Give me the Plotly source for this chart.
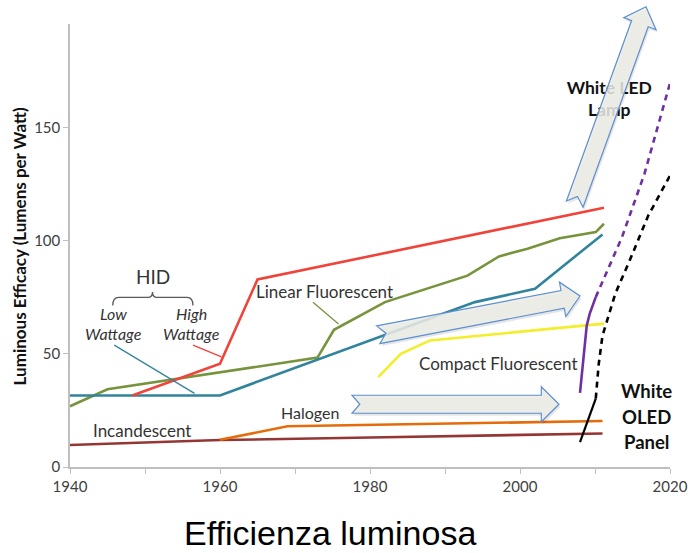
import math
import plotly.graph_objects as go

# ---- efficacy histories (year, lumens per watt) ----
incandescent_years = [1940, 1960, 1980, 2011]
incandescent_lmw = [9.7, 11.9, 13.0, 14.8]

halogen_years = [1960, 1969, 2011]
halogen_lmw = [12.0, 18.0, 20.3]

hid_low_years = [1940, 1960, 1994, 2002, 2011]
hid_low_lmw = [31.6, 31.6, 72.8, 78.7, 102.7]

hid_high_years = [1948.3, 1960, 1965, 2011.2]
hid_high_lmw = [31.6, 45.6, 82.8, 114.5]

linear_fl_years = [1940, 1945, 1973, 1975.2, 1982, 1993, 1997.2, 2001, 2005.3, 2010.1, 2011.2]
linear_fl_lmw = [26.8, 34.3, 48.3, 60.6, 72.8, 84.5, 93.0, 96.4, 101.0, 103.7, 107.4]

compact_fl_years = [1981.1, 1984.1, 1988, 2011.2]
compact_fl_lmw = [39.7, 50.0, 55.9, 63.3]

led_years = [2008.0, 2008.55, 2008.9, 2009.3, 2010.1]
led_lmw = [32.7, 53.0, 62.5, 67.7, 75.0]
led_proj_years = [2010.1, 2013.6, 2016.6, 2020.0]
led_proj_lmw = [75.0, 101.5, 129.5, 169.5]

oled_years = [2008.0, 2010.1]
oled_lmw = [11.0, 30.2]
oled_proj_years = [2010.1, 2010.5, 2011.0, 2011.6, 2012.7, 2014.6, 2017.1, 2020.0]
oled_proj_lmw = [30.2, 45.6, 58.0, 64.7, 76.5, 91.0, 111.0, 128.7]

x_ticks = [1940, 1960, 1980, 2000, 2020]
y_ticks = [0, 50, 100, 150]

# trend arrows: (tail year, tail value, tip year, tip value)
trend_arrows = [
    (2007.3, 116.1, 2016.8, 203.2),
    (1981.1, 58.4, 2008.0, 75.5),
    (1977.6, 27.7, 2005.2, 27.7),
]

# ---- page geometry ----
W, H = 700, 553
ML, MR, MT, MB = 70, 19, 24, 86
PW, PH = W - ML - MR, H - MT - MB
X0, X1 = 1940, 2020
Y0, Y1 = 0, 195.6

FONT = "Lato"
TXT = "#333333"


def to_px(x, y):
    return (ML + (x - X0) / (X1 - X0) * PW,
            MT + (Y1 - y) / (Y1 - Y0) * PH)


def to_paper(px, py):
    return ((px - ML) / PW, (H - MB - py) / PH)


def arrow_path(x0, y0, x1, y1, dx=0.0, dy=0.0,
               half_w=9.0, half_head=17.5, head_len=18.0, notch=8.0):
    tx, ty = to_px(x0, y0)
    hx, hy = to_px(x1, y1)
    length = math.hypot(hx - tx, hy - ty)
    ux, uy = (hx - tx) / length, (hy - ty) / length
    vx, vy = -uy, ux
    local = [(0, -half_w), (notch, 0), (0, half_w),
             (length - head_len, half_w), (length - head_len, half_head),
             (length, 0),
             (length - head_len, -half_head), (length - head_len, -half_w)]
    pts = []
    for u, v in local:
        px = tx + u * ux + v * vx + dx
        py = ty + u * uy + v * vy + dy
        pts.append(to_paper(px, py))
    return "M " + " L ".join(f"{a:.5f},{b:.5f}" for a, b in pts) + " Z"


fig = go.Figure()


def add_line(xs, ys, color, dash=None, width=2.6):
    fig.add_trace(go.Scatter(
        x=xs, y=ys, mode="lines",
        line=dict(color=color, width=width, dash=dash),
        hoverinfo="skip", showlegend=False))


add_line(incandescent_years, incandescent_lmw, "#943634")
add_line(halogen_years, halogen_lmw, "#e46c0a")
add_line(compact_fl_years, compact_fl_lmw, "#f2ee2a")
add_line(linear_fl_years, linear_fl_lmw, "#77933c")
add_line(hid_low_years, hid_low_lmw, "#31849b")
add_line(hid_high_years, hid_high_lmw, "#f0433a")
add_line(led_years, led_lmw, "#7030a0")
add_line(led_proj_years, led_proj_lmw, "#7030a0", dash="6px,5px")
add_line(oled_years, oled_lmw, "#000000", width=2.2)
add_line(oled_proj_years, oled_proj_lmw, "#000000", dash="6px,5px")

# label that sits underneath the big arrow
fig.add_trace(go.Scatter(
    x=[2011.9], y=[161.8], mode="text",
    text=["<b>White LED<br>Lamp</b>"],
    textfont=dict(family=FONT, size=17.5, color="#111111"),
    hoverinfo="skip", showlegend=False))

shapes = []
for (x0, y0, x1, y1) in trend_arrows:
    shapes.append(dict(type="path", xref="paper", yref="paper", layer="above",
                       path=arrow_path(x0, y0, x1, y1, dx=1.5, dy=2.5),
                       fillcolor="rgba(0,0,0,0.10)", line=dict(width=0)))
    shapes.append(dict(type="path", xref="paper", yref="paper", layer="above",
                       path=arrow_path(x0, y0, x1, y1),
                       fillcolor="rgba(236,236,229,0.86)",
                       line=dict(color="#5b8fd0", width=1.2)))

# HID brace
shapes.append(dict(
    type="path", xref="x", yref="y",
    path=("M 1945.7,71.3 Q 1945.7,74.9 1946.5,74.9 L 1950.4,74.9 "
          "Q 1951.0,74.9 1951.0,77.3 Q 1951.0,74.9 1951.6,74.9 "
          "L 1955.6,74.9 Q 1956.4,74.9 1956.4,71.3"),
    line=dict(color="#595959", width=1.3)))

# leader lines
for (xa, ya, xb, yb, col) in [(1945.9, 53.8, 1956.6, 32.5, "#31849b"),
                              (1956.4, 53.8, 1960.2, 48.6, "#f0433a"),
                              (1972.4, 72.7, 1975.8, 63.1, "#77933c")]:
    shapes.append(dict(type="line", xref="x", yref="y", x0=xa, y0=ya, x1=xb, y1=yb,
                       line=dict(color=col, width=1.3)))

annotations = []


def label(x, y, text, size=17, color=TXT, italic=False, bold=False):
    t = text
    if bold:
        t = f"<b>{t}</b>"
    if italic:
        t = f"<i>{t}</i>"
    annotations.append(dict(x=x, y=y, xref="x", yref="y", text=t, showarrow=False,
                            font=dict(family=FONT, size=size, color=color),
                            xanchor="center", yanchor="middle"))


label(1951.1, 84.0, "HID", size=19)
label(1945.8, 67.8, "Low", size=16, italic=True)
label(1945.8, 59.0, "Wattage", size=16, italic=True)
label(1956.2, 67.8, "High", size=16, italic=True)
label(1956.2, 58.9, "Wattage", size=16, italic=True)
label(1973.9, 77.4, "Linear Fluorescent")
label(1997.1, 45.7, "Compact Fluorescent")
label(1972.0, 23.9, "Halogen", size=16)
label(1949.6, 16.2, "Incandescent")
label(2016.8, 33.6, "White", size=18.5, color="#111111", bold=True)
label(2016.8, 22.1, "OLED", size=18.5, color="#111111", bold=True)
label(2016.8, 11.1, "Panel", size=18.5, color="#111111", bold=True)

annotations.append(dict(
    x=-0.085, y=0.498, xref="paper", yref="paper", textangle=-90,
    text="<b>Luminous Efficacy (Lumens per Watt)</b>", showarrow=False,
    font=dict(family=FONT, size=17, color="#111111"),
    xanchor="center", yanchor="middle"))

annotations.append(dict(
    x=0.4337, y=-0.149, xref="paper", yref="paper",
    text="Efficienza luminosa", showarrow=False,
    font=dict(family="Liberation Sans", size=34, color="#000000"),
    xanchor="center", yanchor="middle"))

axis_gray = "#bfbfbf"
tick_font = dict(family=FONT, size=15, color="#404040")
fig.update_layout(
    width=W, height=H,
    margin=dict(l=ML, r=MR, t=MT, b=MB),
    paper_bgcolor="white", plot_bgcolor="white",
    shapes=shapes, annotations=annotations,
    xaxis=dict(range=[X0, X1], tickvals=x_ticks, ticks="outside", ticklen=5,
               tickcolor=axis_gray, showline=True, linecolor=axis_gray, linewidth=1.5,
               showgrid=False, zeroline=False,
               minor=dict(dtick=10, tick0=1940, ticks="outside", ticklen=5,
                          tickcolor=axis_gray, showgrid=False),
               tickfont=tick_font),
    yaxis=dict(range=[Y0, Y1], tickvals=y_ticks, ticks="outside", ticklen=5,
               tickcolor=axis_gray, showline=True, linecolor=axis_gray, linewidth=1.5,
               showgrid=False, zeroline=False,
               tickfont=tick_font),
)

fig.write_html("out.html")
